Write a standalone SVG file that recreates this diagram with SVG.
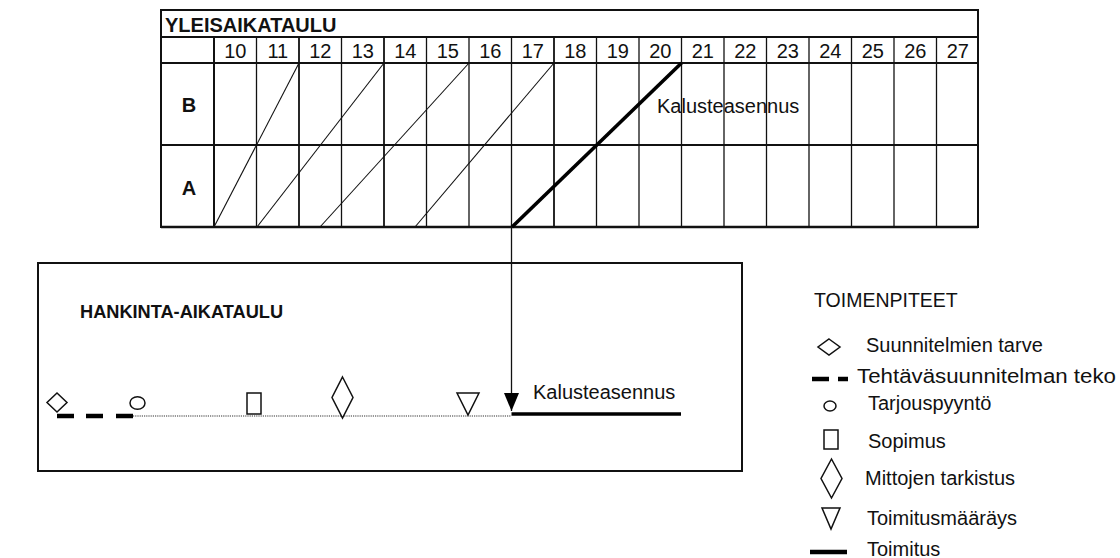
<svg xmlns="http://www.w3.org/2000/svg" width="1120" height="558" viewBox="0 0 1120 558">
  <style>
    text { font-family: "Liberation Sans", Arial, sans-serif; fill: #111; }
    .t { font-size: 20px; }
    .b { font-size: 20px; font-weight: bold; }
    .num { font-size: 20px; text-anchor: middle; }
    .grid { stroke: #111; fill: none; }
    .hl { stroke-width: 2; }
    .vl { stroke-width: 1.3; }
    .diag { stroke: #111; stroke-width: 1.1; fill: none; }
    .bold { stroke: #000; stroke-width: 3.6; fill: none; }
    .sym { stroke: #111; stroke-width: 1.5; fill: #fff; }
    .dash { stroke: #000; stroke-width: 4.5; }
  </style>
  <defs>
    <marker id="arrow" markerWidth="18" markerHeight="16" refX="18" refY="8" orient="auto" markerUnits="userSpaceOnUse" viewBox="0 0 18 16">
      <path d="M0,0.5 L18,8 L0,15.5 Z" fill="#000"/>
    </marker>
  </defs>
  <rect width="1120" height="558" fill="#fff"/>

  <!-- General schedule grid -->
  <g id="yleisaikataulu">
    <rect x="161" y="10" width="817" height="217" class="grid" stroke-width="2"/>
    <line x1="161" y1="37" x2="978" y2="37" class="grid hl"/>
    <line x1="161" y1="63" x2="978" y2="63" class="grid hl"/>
    <line x1="161" y1="145" x2="978" y2="145" class="grid hl"/>
    <line x1="161" y1="227" x2="978" y2="227" class="grid" stroke-width="2.6"/>
    <line x1="214" y1="37" x2="214" y2="227" class="grid" stroke-width="2"/>
    <g class="grid vl">
      <line x1="256.5" y1="37" x2="256.5" y2="227"/>
      <line x1="299" y1="37" x2="299" y2="227" stroke-width="1.8"/>
      <line x1="341.5" y1="37" x2="341.5" y2="227"/>
      <line x1="384" y1="37" x2="384" y2="227" stroke-width="1.8"/>
      <line x1="426.5" y1="37" x2="426.5" y2="227"/>
      <line x1="469" y1="37" x2="469" y2="227"/>
      <line x1="511.5" y1="37" x2="511.5" y2="227"/>
      <line x1="554" y1="37" x2="554" y2="227" stroke-width="1.8"/>
      <line x1="596.5" y1="37" x2="596.5" y2="227"/>
      <line x1="639" y1="37" x2="639" y2="227"/>
      <line x1="681.5" y1="37" x2="681.5" y2="227"/>
      <line x1="724" y1="37" x2="724" y2="227"/>
      <line x1="766.5" y1="37" x2="766.5" y2="227"/>
      <line x1="809" y1="37" x2="809" y2="227"/>
      <line x1="851.5" y1="37" x2="851.5" y2="227"/>
      <line x1="894" y1="37" x2="894" y2="227"/>
      <line x1="936.5" y1="37" x2="936.5" y2="227"/>
    </g>
    <text x="165" y="32" class="b">YLEISAIKATAULU</text>
    <g>
      <text x="235.3" y="58" class="num">10</text>
      <text x="277.8" y="58" class="num">11</text>
      <text x="320.3" y="58" class="num">12</text>
      <text x="362.8" y="58" class="num">13</text>
      <text x="405.3" y="58" class="num">14</text>
      <text x="447.8" y="58" class="num">15</text>
      <text x="490.3" y="58" class="num">16</text>
      <text x="532.8" y="58" class="num">17</text>
      <text x="575.3" y="58" class="num">18</text>
      <text x="617.8" y="58" class="num">19</text>
      <text x="660.3" y="58" class="num">20</text>
      <text x="702.8" y="58" class="num">21</text>
      <text x="745.3" y="58" class="num">22</text>
      <text x="787.8" y="58" class="num">23</text>
      <text x="830.3" y="58" class="num">24</text>
      <text x="872.8" y="58" class="num">25</text>
      <text x="915.3" y="58" class="num">26</text>
      <text x="957.8" y="58" class="num">27</text>
    </g>
    <text x="189" y="112" class="b" text-anchor="middle">B</text>
    <text x="189" y="195" class="b" text-anchor="middle">A</text>
  </g>

  <!-- Design phases sloping across rows A and B -->
  <g id="vaiheet">
    <line x1="214" y1="227" x2="299" y2="63" class="diag"/>
    <line x1="257" y1="227" x2="384" y2="63" class="diag"/>
    <line x1="320" y1="227" x2="469" y2="63" class="diag"/>
    <line x1="415" y1="227" x2="554" y2="63" class="diag"/>
    <line x1="512" y1="227" x2="681.5" y2="63" class="bold"/>
    <text x="657" y="113" class="t">Kalusteasennus</text>
  </g>

  <!-- Procurement schedule box -->
  <g id="hankinta">
    <rect x="38" y="263" width="704" height="208" fill="none" stroke="#111" stroke-width="2"/>
    <text x="80" y="318" class="b" style="font-size:18.2px">HANKINTA-AIKATAULU</text>
    <line x1="133" y1="416" x2="511" y2="416" stroke="#777" stroke-width="1.6" stroke-dasharray="1.2 1"/>
    <polygon points="57,393 67,402.5 57,412 47,402.5" class="sym"/>
    <line x1="57" y1="416" x2="74" y2="416" class="dash"/>
    <line x1="86" y1="416" x2="103" y2="416" class="dash"/>
    <line x1="116" y1="416" x2="133" y2="416" class="dash"/>
    <ellipse cx="137.5" cy="403" rx="7.5" ry="6.3" class="sym"/>
    <rect x="247" y="393" width="14" height="21" class="sym"/>
    <polygon points="342.5,377 353,397.5 342.5,418 332,397.5" class="sym"/>
    <polygon points="457,393 479,393 468,415" class="sym"/>
    <line x1="511.5" y1="414" x2="681" y2="414" class="bold" stroke-width="4"/>
    <text x="533" y="399" class="t">Kalusteasennus</text>
  </g>

  <!-- Link from the general schedule down to the installation start -->
  <g id="connectors">
    <line x1="511.5" y1="227" x2="511.5" y2="411" stroke="#111" stroke-width="1.3" marker-end="url(#arrow)"/>
  </g>

  <!-- Legend -->
  <g id="toimenpiteet">
    <text x="814" y="307" class="t" style="font-size:19.5px">TOIMENPITEET</text>
    <polygon points="829,339 840,347 829,355 818,347" class="sym"/>
    <text x="866" y="352" class="t">Suunnitelmien tarve</text>
    <line x1="812" y1="379" x2="829" y2="379" class="dash" stroke-width="4"/>
    <line x1="838" y1="379" x2="848" y2="379" class="dash" stroke-width="4"/>
    <text x="857" y="383" class="t" textLength="259" lengthAdjust="spacingAndGlyphs">Tehtäväsuunnitelman teko</text>
    <ellipse cx="830" cy="406" rx="6" ry="5" class="sym"/>
    <text x="868" y="410" class="t">Tarjouspyyntö</text>
    <rect x="824" y="430" width="14" height="19" class="sym"/>
    <text x="868" y="448" class="t">Sopimus</text>
    <polygon points="831.5,459 842,478.5 831.5,498 821,478.5" class="sym"/>
    <text x="865" y="485" class="t">Mittojen tarkistus</text>
    <polygon points="822,508 840,508 831,529" class="sym"/>
    <text x="867" y="525" class="t">Toimitusmääräys</text>
    <line x1="810" y1="552" x2="847" y2="552" class="dash" stroke-width="4"/>
    <text x="867" y="556" class="t">Toimitus</text>
  </g>
</svg>
